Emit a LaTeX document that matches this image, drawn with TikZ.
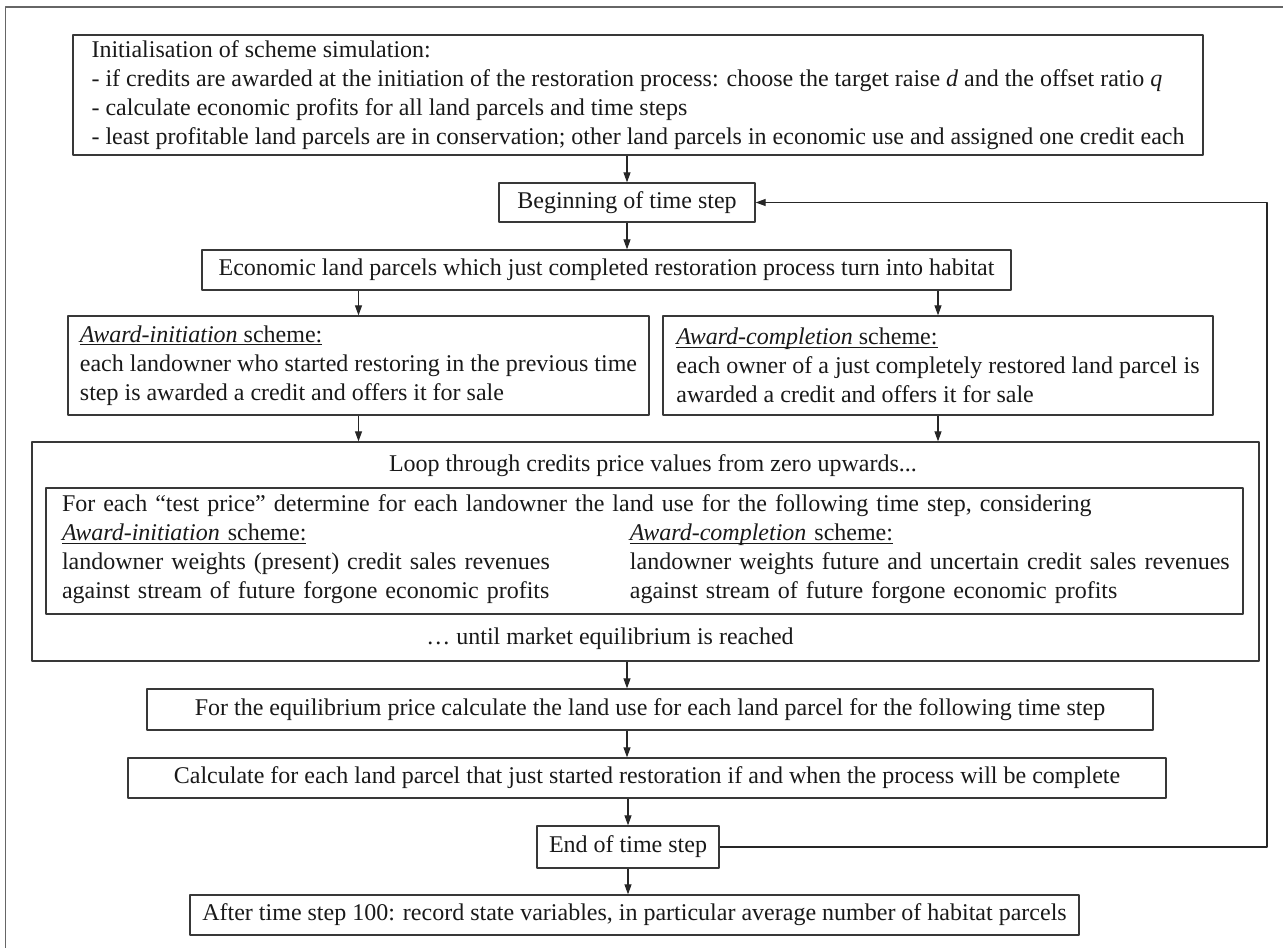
\documentclass[tikz,border=0pt]{standalone}
\usepackage{fontspec}
\setmainfont{Liberation Serif}
\usetikzlibrary{arrows.meta}
\newcommand\undr[1]{\leavevmode\setbox0\hbox{#1}\rlap{\rule[-3pt]{\wd0}{1pt}}\box0}
\begin{document}
\begin{tikzpicture}[x=1pt, y=-1pt, font=\fontsize{24}{29}\selectfont, line join=round, >={Triangle[length=10pt,width=7pt]},
		box/.style={draw=black!78, line width=1.3pt, inner sep=0pt, align=left, text=black!90},
		txt/.style={inner sep=0pt, text=black!90},
		flow/.style={->, draw=black!85, line width=1.1pt}]
			\useasboundingbox (0,0) rectangle (1283,948);
			\draw[black!60, line width=1.4pt] (5.5,948) -- (5.5,7) -- (1283,7);
			\node[box, minimum width=1130pt, minimum height=120pt] (init) at (638,95) {Initialisation of scheme simulation:\\
				- if credits are awarded at the initiation of the restoration process: choose the target raise \textit{d} and the offset ratio \textit{q}\\
				- calculate economic profits for all land parcels and time steps\\
				- least profitable land parcels are in conservation; other land parcels in economic use and assigned one credit each};
			\node[box, align=center, minimum width=256pt, minimum height=39pt] (begin) at (627,202.5) {Beginning of time step};
			\node[box, align=center, minimum width=809pt, minimum height=40pt] (econ) at (606.5,270) {Economic land parcels which just completed restoration process turn into habitat};
			\node[box, minimum width=581pt, minimum height=99pt] (ainit) at (358.5,365.5) {\undr{\textit{Award-initiation} scheme:}\\
				each landowner who started restoring in the previous time\\
				step is awarded a credit and offers it for sale};
			\node[box, minimum width=550pt, minimum height=99pt] (acompl) at (938,365.5) {\undr{\textit{Award-completion} scheme:}\\
				each owner of a just completely restored land parcel is\\
				awarded a credit and offers it for sale};
			\node[box, minimum width=1227pt, minimum height=219pt] (loop) at (645.5,551.5) {};
			\node[txt] (loophead) at (653,466) {Loop through credits price values from zero upwards...};
			\node[box, text width=1165pt, minimum width=1197pt, minimum height=126pt] (test) at (644.5,551) {For each “test price” determine for each landowner the land use for the following time step, considering\\
				\begin{tabular}[t]{@{}p{568pt}@{}l@{}}
					\undr{\textit{Award-initiation} scheme:} & \undr{\textit{Award-completion} scheme:}\\
					landowner weights (present) credit sales revenues & landowner weights future and uncertain credit sales revenues\\
					against stream of future forgone economic profits & against stream of future forgone economic profits
				\end{tabular}};
			\node[txt] (looptail) at (610,639) {… until market equilibrium is reached};
			\node[box, align=center, minimum width=1006pt, minimum height=41pt] (equil) at (650,709.5) {For the equilibrium price calculate the land use for each land parcel for the following time step};
			\node[box, align=center, minimum width=1038pt, minimum height=40pt] (calc) at (647,778) {Calculate for each land parcel that just started restoration if and when the process will be complete};
			\node[box, align=center, minimum width=182pt, minimum height=42pt] (endstep) at (628,847) {End of time step};
			\node[box, align=center, minimum width=889pt, minimum height=40pt] (final) at (634.5,915) {After time step 100: record state variables, in particular average number of habitat parcels};
			\coordinate (back) at (1267,202.5);
			\draw[flow] (begin.north |- init.south) -- (begin.north);
			\draw[flow] (begin.south) -- (begin.south |- econ.north);
			\foreach \s in {ainit, acompl} {
				\draw[flow] (\s.north |- econ.south) -- (\s.north);
				\draw[flow] (\s.south) -- (\s.south |- loop.north);
			}
			\draw[flow] (begin |- loop.south) -- (begin |- equil.north);
			\draw[flow] (begin |- equil.south) -- (begin |- calc.north);
			\draw[flow] (endstep.north |- calc.south) -- (endstep.north);
			\draw[flow] (endstep.south) -- (endstep.south |- final.north);
			\draw[flow] (endstep.east) -| (back) -- (begin.east);
		\end{tikzpicture}
\end{document}
